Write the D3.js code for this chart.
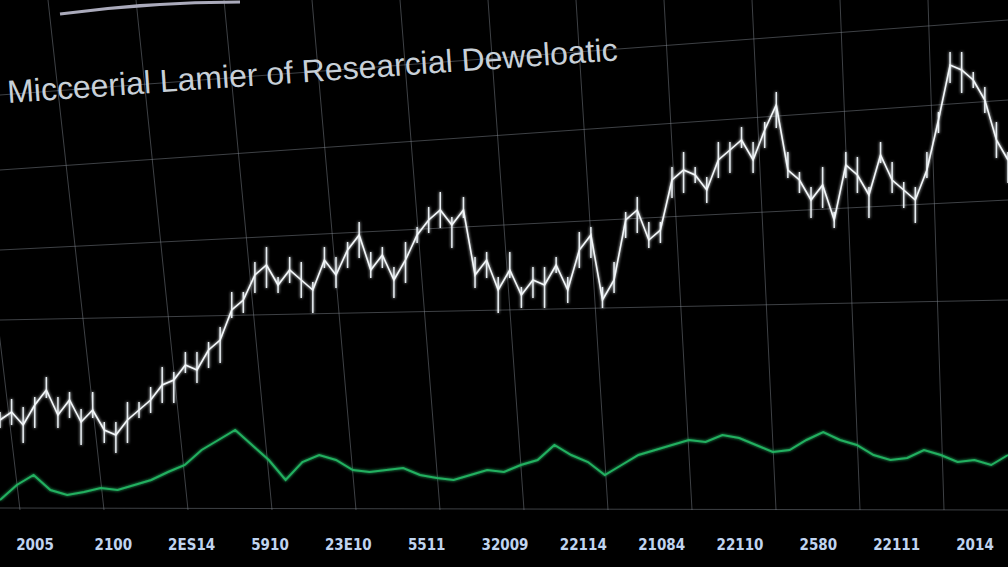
<!DOCTYPE html><html><head><meta charset="utf-8"><script src="https://cdn.jsdelivr.net/npm/d3@7"></script>
<style>body{margin:0;background:#000}svg{display:block}</style></head><body>
<script>
const title="Micceerial Lamier of Researcial Deweloatic";
const tickLabels=["2005","2100","2ES14","5910","23E10","5511","32009","22114","21084","22110","2580","22111","2014"];
const whiteSeries=[80,88,75,95,110,85,100,78,90,70,65,80,90,100,115,120,135,130,150,160,190,200,225,235,215,230,220,210,240,225,250,265,230,245,220,240,265,280,290,275,290,225,240,210,230,205,220,215,235,210,250,265,200,220,280,290,260,270,320,330,325,310,340,350,360,340,370,395,330,320,300,315,280,335,325,305,345,320,310,300,330,380,435,430,420,400,360,340];
const greenSeries=[0,15,25,10,5,8,12,10,15,20,28,35,50,60,70,55,40,20,38,45,40,30,28,30,32,25,22,20,25,30,28,35,40,55,45,38,25,35,45,50,55,60,58,65,62,55,48,50,60,68,60,55,45,40,42,50,45,38,40,35,45];
const W=1008,H=567;
const svg=d3.select("body").append("svg").attr("width",W).attr("height",H);
const defs=svg.append("defs");
const f=defs.append("filter").attr("id","glow").attr("filterUnits","userSpaceOnUse").attr("x",0).attr("y",0).attr("width",W).attr("height",H);
f.append("feGaussianBlur").attr("stdDeviation",1.5).attr("result","b");
const m=f.append("feMerge");m.append("feMergeNode").attr("in","b");m.append("feMergeNode").attr("in","SourceGraphic");
const x=d3.scaleLinear().domain([0,whiteSeries.length-1]).range([0,1008]);
const xg=d3.scaleLinear().domain([0,greenSeries.length-1]).range([0,1008]);
const y=d3.scaleLinear().domain([0,500]).range([500,0]);
const g=svg.append("g").attr("stroke","#8a9098").attr("stroke-opacity",0.45).attr("stroke-width",1);
d3.range(0,13).forEach(i=>{const xb=i*84;g.append("line").attr("x1",xb-40+i*4).attr("y1",0).attr("x2",xb+20).attr("y2",510);});
[[0,95,1008,20],[0,170,1008,100],[0,250,1008,200],[0,320,1008,300]].forEach(a=>g.append("line").attr("x1",a[0]).attr("y1",a[1]).attr("x2",a[2]).attr("y2",a[3]));
g.append("line").attr("x1",0).attr("y1",508).attr("x2",1008).attr("y2",510);
svg.append("text").attr("x",8).attr("y",103).attr("transform","rotate(-4,8,103)").attr("fill","#c8d0d8").attr("font-family","Liberation Sans").attr("font-size",32).text(title);
svg.append("path").attr("d","M60,14 Q150,2 240,2").attr("stroke","#aab").attr("stroke-width",3).attr("fill","none");
const bars=svg.append("g").attr("filter","url(#glow)");
bars.selectAll("line").data(whiteSeries).join("line").attr("x1",(d,i)=>x(i)).attr("x2",(d,i)=>x(i)).attr("y1",(d,i)=>y(d)-8-(i%3)*5).attr("y2",(d,i)=>y(d)+8+(i%4)*5).attr("stroke","#e8eef2").attr("stroke-width",1.5);
bars.append("path").datum(whiteSeries).attr("d",d3.line().x((d,i)=>x(i)).y(d=>y(d))).attr("fill","none").attr("stroke","#f4f8fa").attr("stroke-width",1.6);
svg.append("path").datum(greenSeries).attr("d",d3.line().x((d,i)=>xg(i)).y(d=>y(d))).attr("fill","none").attr("stroke","#22b060").attr("stroke-width",2).attr("filter","url(#glow)");
const xl=d3.scalePoint().domain(tickLabels).range([35,975]);
svg.append("g").selectAll("text").data(tickLabels).join("text").attr("x",d=>xl(d)).attr("y",550).attr("text-anchor","middle").attr("fill","#c0d4f0").attr("font-family","DejaVu Sans Condensed").attr("font-weight","bold").attr("font-size",15).text(d=>d);
</script></body></html>
